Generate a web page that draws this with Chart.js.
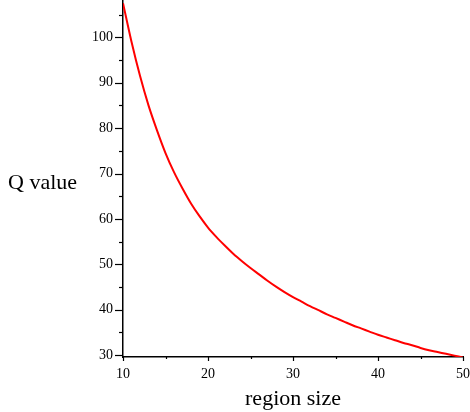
<!DOCTYPE html>
<html>
<head>
<meta charset="utf-8">
<script src="https://cdn.jsdelivr.net/npm/chart.js@4/dist/chart.umd.min.js"></script>
<style>
html,body{margin:0;padding:0;background:#fff;}
#wrap{width:470px;height:412px;}
</style>
</head>
<body>
<div id="wrap"><canvas id="c" width="470" height="412"></canvas></div>
<script>
const regionSize = [10,11,12,13,14,15,16,17,18,19,20,21,22,23,24,25,26,27,28,29,30,31,32,33,34,35,36,37,38,39,40,41,42,43,44,45,46,47,48,49,50];
const qValue = [107.5,99,91.5,85,79.5,74.5,70.3,66.7,63.4,60.6,58.1,56.0,54.1,52.3,50.7,49.2,47.8,46.4,45.1,43.9,42.8,41.8,40.8,39.9,39.0,38.2,37.4,36.6,35.9,35.2,34.5,33.9,33.3,32.7,32.2,31.6,31.1,30.7,30.3,29.9,29.5];
const xTickLabels = [10,20,30,40,50];
const yTickLabels = [30,40,50,60,70,80,90,100];
const xTitle = 'region size';
const yTitle = 'Q value';

const points = regionSize.map((x,i)=>({x:x,y:qValue[i]}));
const serif = "'Liberation Serif','Times New Roman',serif";

const minorTicks = {
  id:'minorTicks',
  afterDraw(chart){
    const ctx = chart.ctx;
    const xs = chart.scales.x, ys = chart.scales.y;
    const ca = chart.chartArea;
    ctx.save();
    ctx.strokeStyle = '#000';
    ctx.lineWidth = 1.2;
    for (let v = 30; v <= 105; v += 5) {
      const py = Math.round(ys.getPixelForValue(v)) + 0.5;
      const len = yTickLabels.includes(v) ? 8 : 4;
      ctx.beginPath(); ctx.moveTo(ca.left - len, py); ctx.lineTo(ca.left, py); ctx.stroke();
    }
    for (let v = 10; v <= 50; v += 5) {
      const px = Math.round(xs.getPixelForValue(v)) + 0.5;
      const len = xTickLabels.includes(v) ? 4 : 2;
      ctx.beginPath(); ctx.moveTo(px, ca.bottom); ctx.lineTo(px, ca.bottom + len); ctx.stroke();
    }
    ctx.fillStyle = '#000';
    ctx.font = '22px ' + serif;
    ctx.textAlign = 'left';
    ctx.textBaseline = 'middle';
    ctx.fillText(yTitle, 8, 183);
    ctx.restore();
  }
};

new Chart(document.getElementById('c'), {
  type: 'line',
  data: {
    datasets: [{
      data: points,
      borderColor: '#ff0000',
      borderWidth: 2,
      pointRadius: 0,
      tension: 0.3,
      fill: false
    }]
  },
  options: {
    responsive: false,
    animation: false,
    devicePixelRatio: 1,
    layout: { padding: { left: 0, right: 7, top: 0, bottom: 0 } },
    plugins: { legend: { display: false }, tooltip: { enabled: false } },
    scales: {
      x: {
        type: 'linear',
        min: 10, max: 50,
        afterFit: s => { s.height = 55; s.paddingLeft = 0; s.paddingRight = 0; },
        border: { display: true, color: '#000', width: 1.5 },
        grid: { display: false, drawTicks: false },
        afterBuildTicks: s => { s.ticks = xTickLabels.map(v => ({value: v})); },
        ticks: {
          color: '#000',
          padding: 9,
          maxRotation: 0,
          font: { family: serif, size: 14 },
          callback: v => String(v)
        },
        title: {
          display: true,
          text: xTitle,
          color: '#000',
          font: { family: serif, size: 22 },
          padding: { top: 1, bottom: 0 }
        }
      },
      y: {
        type: 'linear',
        min: 29.6, max: 108.2,
        afterFit: s => { s.width = 123; s.paddingTop = 0; s.paddingBottom = 0; },
        border: { display: true, color: '#000', width: 1.5 },
        grid: { display: false, drawTicks: false },
        afterBuildTicks: s => { s.ticks = yTickLabels.map(v => ({value: v})); },
        ticks: {
          color: '#000',
          padding: 10,
          font: { family: serif, size: 14 },
          callback: v => String(v)
        }
      }
    }
  },
  plugins: [minorTicks]
});
</script>
</body>
</html>
